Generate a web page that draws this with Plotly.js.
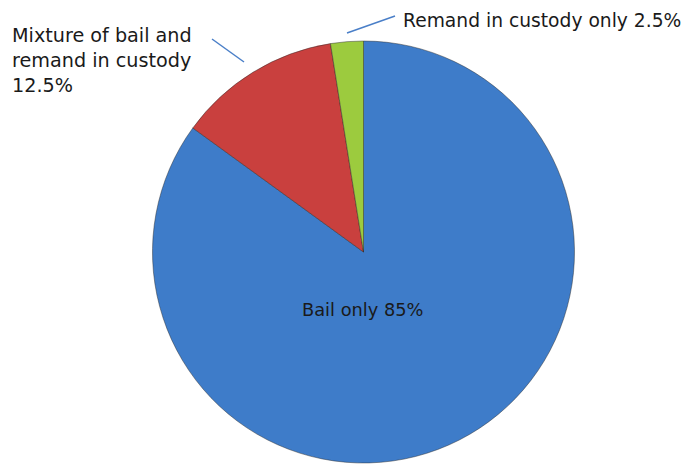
<!DOCTYPE html>
<html>
<head>
<meta charset="utf-8">
<script src="https://cdn.plot.ly/plotly-3.0.1.min.js"></script>
<style>html,body{margin:0;padding:0;background:#fff;}#chart{width:683px;height:464px;}</style>
</head>
<body>
<div id="chart"></div>
<script>
// Data
var categories = ["Bail only", "Mixture of bail and remand in custody", "Remand in custody only"];
var values = [85, 12.5, 2.5];
var labelTexts = ["Bail only 85%", "Mixture of bail and<br>remand in custody<br>12.5%", "Remand in custody only 2.5%"];
var sliceColors = ["#3e7cc9", "#c9403e", "#9ccb3e"];

var W = 683, H = 464;
function px(x){ return x / W; }
function py(y){ return 1 - y / H; }

var FONT = "DejaVu Sans, sans-serif";

var trace = {
  type: "pie",
  labels: categories,
  values: values,
  sort: false,
  direction: "clockwise",
  rotation: 0,
  textinfo: "none",
  hoverinfo: "label+percent",
  marker: { colors: sliceColors, line: { color: "rgba(40,40,40,0.45)", width: 1 } },
  domain: { x: [px(152), px(575)], y: [py(463), py(41)] },
  showlegend: false
};

var layout = {
  width: W, height: H,
  margin: { l: 0, r: 0, t: 0, b: 0 },
  paper_bgcolor: "#ffffff",
  showlegend: false,
  font: { family: FONT, size: 18, color: "#1a1a1a" },
  annotations: [
    { text: labelTexts[0], xref: "paper", yref: "paper", x: px(362), y: py(309), xanchor: "center", yanchor: "middle", showarrow: false, font: { family: FONT, size: 17.8, color: "#1a1a1a" } },
    { text: labelTexts[1], xref: "paper", yref: "paper", x: px(10), y: py(22), xanchor: "left", yanchor: "top", align: "left", showarrow: false, font: { family: FONT, size: 19.2, color: "#1a1a1a" } },
    { text: labelTexts[2], xref: "paper", yref: "paper", x: px(401), y: py(20), xanchor: "left", yanchor: "middle", align: "left", showarrow: false, font: { family: FONT, size: 18.7, color: "#1a1a1a" } }
  ],
  shapes: [
    { type: "line", xref: "paper", yref: "paper", x0: px(212), y0: py(39), x1: px(244), y1: py(62), line: { color: "#4a7fc8", width: 1.5 } },
    { type: "line", xref: "paper", yref: "paper", x0: px(347), y0: py(33), x1: px(395), y1: py(16), line: { color: "#4a7fc8", width: 1.5 } }
  ]
};

Plotly.newPlot("chart", [trace], layout, { displayModeBar: false, staticPlot: true });
</script>
</body>
</html>
